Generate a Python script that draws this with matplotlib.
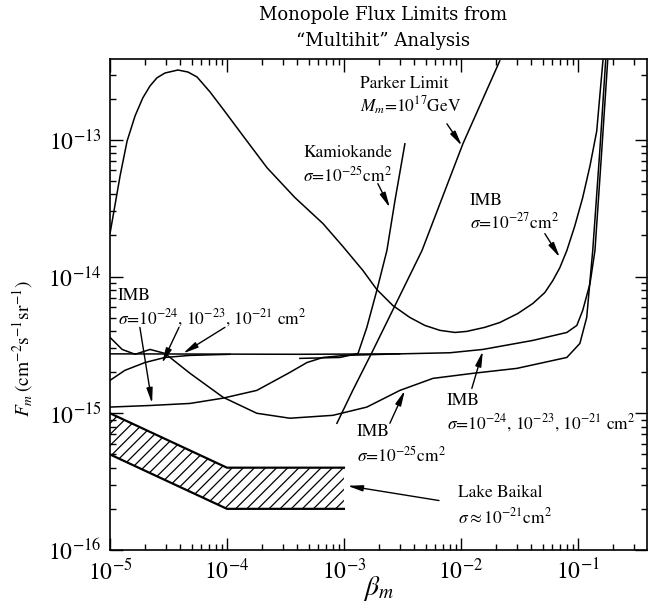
import matplotlib

matplotlib.use("Agg")
import matplotlib.pyplot as plt
import numpy as np

plt.rcParams["font.family"] = ["STIXGeneral", "DejaVu Serif"]
plt.rcParams["mathtext.fontset"] = "stix"

# IMB sigma=1e-27 (big hump)
imb27_beta = [1.0e-5, 1.22e-5, 1.40e-5, 1.64e-5, 1.91e-5, 2.20e-5, 2.52e-5, 2.95e-5, 3.81e-5,
              4.65e-5, 5.55e-5, 7.16e-5, 9.25e-5, 1.43e-4, 2.20e-4, 3.81e-4, 6.62e-4, 9.79e-4,
              1.45e-3, 1.91e-3, 2.62e-3, 3.66e-3, 4.92e-3, 6.62e-3, 8.89e-3, 1.12e-2, 1.60e-2,
              2.15e-2, 3.07e-2, 4.12e-2, 5.22e-2, 6.11e-2, 7.01e-2, 8.05e-2, 9.42e-2, 0.110,
              0.127, 0.145, 0.154, 0.164]
imb27_flux = [2.06e-14, 5.46e-14, 9.8e-14, 1.50e-13, 2.03e-13, 2.48e-13, 2.84e-13, 3.08e-13, 3.24e-13,
              3.13e-13, 2.88e-13, 2.24e-13, 1.68e-13, 1.02e-13, 6.25e-14, 3.78e-14, 2.44e-14, 1.66e-14,
              1.11e-14, 8.04e-15, 6.14e-15, 5.02e-15, 4.39e-15, 4.04e-15, 3.90e-15, 3.97e-15, 4.25e-15,
              4.61e-15, 5.37e-15, 6.35e-15, 7.64e-15, 9.35e-15, 1.16e-14, 1.55e-14, 2.35e-14, 3.78e-14,
              6.46e-14, 1.16e-13, 2.09e-13, 3.84e-13]

# IMB sigma=1e-24,1e-23,1e-21 (common flat branch)
imb_flat_beta = [1.0e-5, 4.2e-4, 3.0e-3, 8.05e-3, 1.54e-2, 4.12e-2, 8.05e-2, 9.8e-2, 0.110, 0.127,
                 0.140, 0.160, 0.180]
imb_flat_flux = [2.72e-15, 2.70e-15, 2.72e-15, 2.77e-15, 2.93e-15, 3.41e-15, 3.90e-15, 4.39e-15,
                 5.65e-15, 8.89e-15, 1.55e-14, 8.32e-14, 3.84e-13]

# the two low-beta branches that join the flat line
imb_b_beta = [1.0e-5, 1.34e-5, 1.99e-5, 2.95e-5, 4.83e-5, 1.06e-4]
imb_b_flux = [1.74e-15, 2.06e-15, 2.35e-15, 2.56e-15, 2.65e-15, 2.70e-15]
imb_c_beta = [1.0e-5, 2.2e-5, 4.83e-5, 9.25e-5, 1.80e-4, 3.45e-4, 4.83e-4, 6.62e-4, 1.02e-3, 3.0e-3]
imb_c_flux = [1.11e-15, 1.14e-15, 1.18e-15, 1.29e-15, 1.47e-15, 1.99e-15, 2.35e-15, 2.56e-15,
              2.65e-15, 2.72e-15]

# IMB sigma=1e-25
imb25_beta = [1.0e-5, 1.27e-5, 1.64e-5, 2.2e-5, 2.95e-5, 4.83e-5, 9.25e-5, 1.80e-4, 3.45e-4,
              8.05e-4, 1.57e-3, 3.01e-3, 5.77e-3, 1.27e-2, 3.01e-2, 8.05e-2, 0.104, 0.119, 0.134,
              0.154, 0.173]
imb25_flux = [3.59e-15, 2.93e-15, 2.70e-15, 2.93e-15, 2.74e-15, 1.96e-15, 1.31e-15, 1.0e-15, 9.2e-16,
              9.66e-16, 1.11e-15, 1.47e-15, 1.80e-15, 1.96e-15, 2.13e-15, 2.56e-15, 3.24e-15,
              5.02e-15, 1.55e-14, 8.3e-14, 3.84e-13]

# Kamiokande sigma=1e-25
kam_beta = [4.2e-4, 9.25e-4, 1.32e-3, 1.57e-3, 1.91e-3, 2.33e-3, 2.73e-3, 3.32e-3]
kam_flux = [2.52e-15, 2.56e-15, 2.74e-15, 4.25e-15, 7.91e-15, 1.55e-14, 3.59e-14, 9.35e-14]

# Parker limit, M=1e17 GeV
parker_beta = [8.71e-4, 1.19e-3, 1.77e-3, 3.01e-3, 4.65e-3, 1.04e-2, 2.15e-2]
parker_flux = [8.45e-16, 1.47e-15, 2.88e-15, 7.26e-15, 1.55e-14, 9.35e-14, 3.78e-13]

# Lake Baikal band
baikal_beta = [1e-5, 1e-4, 1e-3]
baikal_upper = [1.0e-15, 4.0e-16, 4.0e-16]
baikal_lower = [5.0e-16, 2.0e-16, 2.0e-16]

x_ticks = [1e-5, 1e-4, 1e-3, 1e-2, 1e-1]
x_ticklabels = ["$10^{-5}$", "$10^{-4}$", "$10^{-3}$", "$10^{-2}$", "$10^{-1}$"]
y_ticks = [1e-16, 1e-15, 1e-14, 1e-13]
y_ticklabels = ["$10^{-16}$", "$10^{-15}$", "$10^{-14}$", "$10^{-13}$"]

fig = plt.figure(figsize=(6.54, 6.08), dpi=100)
ax = fig.add_axes([110 / 654, 58 / 608, 537 / 654, 491 / 608])

lw = 1.1
for bx, fy in [(imb27_beta, imb27_flux), (imb_flat_beta, imb_flat_flux), (imb_b_beta, imb_b_flux),
               (imb_c_beta, imb_c_flux), (imb25_beta, imb25_flux), (kam_beta, kam_flux),
               (parker_beta, parker_flux)]:
    ax.plot(bx, fy, color="black", lw=lw, solid_joinstyle="round")

plt.rcParams["hatch.linewidth"] = 0.9
ax.fill_between(baikal_beta, baikal_lower, baikal_upper, facecolor="white", edgecolor="black",
                hatch="///", lw=0)
ax.plot(baikal_beta, baikal_upper, color="black", lw=1.6)
ax.plot(baikal_beta, baikal_lower, color="black", lw=1.6)

ax.set_xscale("log")
ax.set_yscale("log")
ax.set_xlim(1e-5, 0.39)
ax.set_ylim(1e-16, 3.9e-13)
ax.set_xticks(x_ticks)
ax.set_xticklabels(x_ticklabels)
ax.set_yticks(y_ticks)
ax.set_yticklabels(y_ticklabels)
ax.tick_params(which="both", direction="in", top=True, right=True, width=1.0)
ax.tick_params(which="major", length=9, labelsize=17, pad=6)
ax.tick_params(which="minor", length=4.5)
for s in ax.spines.values():
    s.set_linewidth(1.2)

ax.set_xlabel(r"$\beta_m$", fontsize=20, labelpad=-7)
ax.set_ylabel(r"$F_m\,$(cm$^{-2}$s$^{-1}$sr$^{-1}$)", fontsize=14)
ax.yaxis.set_label_coords(-0.14, 0.41)

fig.text(0.585, 0.975, "Monopole Flux Limits from", ha="center", va="center", fontsize=13,
         family="DejaVu Serif")
fig.text(0.585, 0.933, "\u201cMultihit\u201d Analysis", ha="center", va="center", fontsize=13,
         family="DejaVu Serif")

fs = 12.5
head = dict(arrowstyle="-|>,head_length=0.9,head_width=0.18", color="black", lw=1.0,
            shrinkA=0, shrinkB=0)


def label(x, y1, y2, line1, line2):
    ax.text(x, y1, line1, fontsize=fs, va="center", ha="left")
    ax.text(x, y2, line2, fontsize=fs, va="center", ha="left")


label(1.37e-3, 2.56e-13, 1.77e-13, "Parker Limit", r"$M_m$=10$^{17}$GeV")
label(4.47e-4, 8.04e-14, 5.46e-14, "Kamiokande", r"$\sigma$=10$^{-25}$cm$^2$")
label(1.19e-2, 3.59e-14, 2.48e-14, "IMB", r"$\sigma$=10$^{-27}$cm$^2$")
label(1.17e-5, 7.26e-15, 4.93e-15, "IMB", r"$\sigma$=10$^{-24}$, 10$^{-23}$, 10$^{-21}$ cm$^2$")
label(7.59e-3, 1.24e-15, 8.45e-16, "IMB", r"$\sigma$=10$^{-24}$, 10$^{-23}$, 10$^{-21}$ cm$^2$")
label(1.29e-3, 7.26e-16, 4.93e-16, "IMB", r"$\sigma$=10$^{-25}$cm$^2$")
label(9.42e-3, 2.61e-16, 1.74e-16, "Lake Baikal", r"$\sigma\approx$10$^{-21}$cm$^2$")

arrows = [
    ((1.02e-2, 9.04e-14), (7.59e-3, 1.31e-13)),
    ((2.47e-3, 3.19e-14), (1.95e-3, 4.78e-14)),
    ((7.01e-2, 1.38e-14), (5.22e-2, 2.06e-14)),
    ((1.54e-2, 2.85e-15), (1.24e-2, 1.52e-15)),
    ((3.32e-3, 1.47e-15), (2.47e-3, 8.45e-16)),
    ((2.29e-5, 1.18e-15), (1.80e-5, 4.25e-15)),
    ((2.78e-5, 2.32e-15), (3.89e-5, 4.25e-15)),
    ((4.21e-5, 2.74e-15), (9.6e-5, 4.25e-15)),
    ((1.07e-3, 2.95e-16), (6.5e-3, 2.3e-16)),
]
for tip, tail in arrows:
    ax.annotate("", xy=tip, xytext=tail, arrowprops=head)

fig.savefig("out.png", dpi=100)
